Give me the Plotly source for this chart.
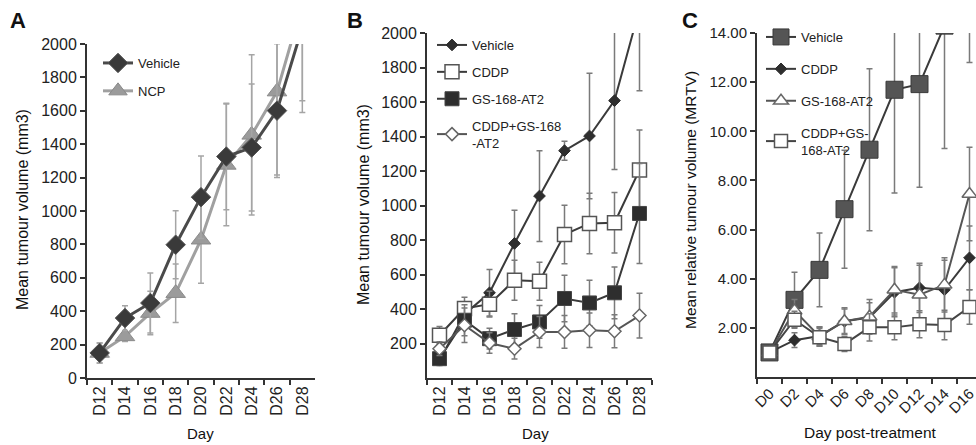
import plotly.graph_objects as go

W, H = 976, 445

# ---------------- Data ----------------
days_ab = ["D12", "D14", "D16", "D18", "D20", "D22", "D24", "D26", "D28"]
days_c = ["D0", "D2", "D4", "D6", "D8", "D10", "D12", "D14", "D16"]

# Panel A
a_vehicle = [150, 359, 449, 798, 1083, 1326, 1380, 1601, 2100]
a_vehicle_err = [60, 74, 180, 203, 247, 319, 380, 400, 510]
a_ncp = [150, 249, 389, 508, 828, 1276, 1456, 1715, 2240]
a_ncp_err = [60, 30, 130, 175, 260, 365, 480, 500, 580]

# Panel B
b_vehicle = [103, 370, 494, 780, 1055, 1318, 1403, 1608, 2140]
b_vehicle_err = [30, 70, 135, 193, 263, 55, 364, 400, 475]
b_cddp = [248, 403, 428, 567, 561, 832, 896, 900, 1206]
b_cddp_err = [50, 65, 75, 116, 110, 170, 175, 175, 232]
b_gs = [112, 335, 228, 281, 325, 461, 435, 494, 954]
b_gs_err = [30, 90, 60, 92, 95, 135, 132, 150, 290]
b_combo = [170, 306, 203, 170, 267, 267, 277, 271, 362]
b_combo_err = [40, 100, 60, 60, 90, 95, 100, 95, 130]

# Panel C
c_vehicle = [1.0, 3.14, 4.36, 6.83, 9.25, 11.69, 11.92, 14.3, 17.5]
c_vehicle_err = [0.2, 1.12, 1.5, 2.4, 3.3, 4.2, 4.2, 5.0, 4.7]
c_cddp = [1.0, 1.5, 1.67, 2.27, 2.42, 3.45, 3.63, 3.55, 4.85]
c_cddp_err = [0.15, 0.3, 0.35, 0.55, 0.6, 1.0, 1.0, 1.2, 1.3]
c_gs = [1.0, 2.7, 1.65, 2.27, 2.45, 3.55, 3.35, 3.75, 7.45]
c_gs_err = [0.15, 0.45, 0.4, 0.5, 0.7, 0.95, 1.2, 1.1, 1.9]
c_combo = [1.0, 2.33, 1.62, 1.34, 2.02, 2.02, 2.15, 2.12, 2.85]
c_combo_err = [0.15, 0.35, 0.35, 0.3, 0.55, 0.5, 0.55, 0.6, 0.7]

yticks_a = list(range(0, 2001, 200))
yticks_b = list(range(200, 2001, 200))
yticks_c = [2, 4, 6, 8, 10, 12, 14]

FONT = "Arial, 'Liberation Sans', sans-serif"


def px_x(p):
    return p / W


def px_y(p):
    return 1 - p / H


fig = go.Figure()


def add(x, y, err, name, xa, ya, legend, rank, marker, line_color, line_width,
        err_color, err_width=1.5):
    fig.add_trace(go.Scatter(
        x=x, y=y, name=name, mode="lines+markers",
        xaxis=xa, yaxis=ya, legend=legend, legendgroup=name + legend,
        legendrank=rank,
        line=dict(color=line_color, width=line_width),
        marker=marker,
        error_y=dict(type="data", array=err, visible=True, color=err_color,
                     thickness=err_width, width=3),
        cliponaxis=True,
    ))


# Panel A traces
add(days_ab, a_ncp, a_ncp_err, "NCP", "x", "y", "legend", 2,
    dict(symbol="triangle-up", size=17, color="#9b9b9b",
         line=dict(color="#8a8a8a", width=1)),
    "#a0a0a0", 3, "#a5a5a5")
add(days_ab, a_vehicle, a_vehicle_err, "Vehicle", "x", "y", "legend", 1,
    dict(symbol="diamond", size=15, color="#3a3a3a",
         line=dict(color="#555555", width=1)),
    "#4a4a4a", 3, "#a5a5a5")

# Panel B traces
add(days_ab, b_vehicle, b_vehicle_err, "Vehicle", "x2", "y2", "legend2", 1,
    dict(symbol="diamond", size=9, color="#2e2e2e",
         line=dict(color="#2e2e2e", width=1)),
    "#3a3a3a", 2, "#7a7a7a")
add(days_ab, b_cddp, b_cddp_err, "CDDP", "x2", "y2", "legend2", 2,
    dict(symbol="square", size=14, color="white",
         line=dict(color="#555555", width=1.5)),
    "#3a3a3a", 2, "#7a7a7a")
add(days_ab, b_gs, b_gs_err, "GS-168-AT2", "x2", "y2", "legend2", 3,
    dict(symbol="square", size=14, color="#2e2e2e",
         line=dict(color="#444444", width=1)),
    "#3a3a3a", 2, "#7a7a7a")
add(days_ab, b_combo, b_combo_err, "CDDP+GS-168<br>-AT2", "x2", "y2", "legend2", 4,
    dict(symbol="diamond", size=10, color="white",
         line=dict(color="#666666", width=1.5)),
    "#555555", 2, "#7a7a7a")

# Panel C traces
add(days_c, c_vehicle, c_vehicle_err, "Vehicle", "x3", "y3", "legend3", 1,
    dict(symbol="square", size=17, color="#555555",
         line=dict(color="#3a3a3a", width=1)),
    "#3a3a3a", 2, "#7a7a7a")
add(days_c, c_cddp, c_cddp_err, "CDDP", "x3", "y3", "legend3", 2,
    dict(symbol="diamond", size=9, color="#2e2e2e",
         line=dict(color="#2e2e2e", width=1)),
    "#3a3a3a", 2, "#7a7a7a")
add(days_c, c_gs, c_gs_err, "GS-168-AT2", "x3", "y3", "legend3", 3,
    dict(symbol="triangle-up", size=13, color="white",
         line=dict(color="#666666", width=1.5)),
    "#555555", 2, "#7a7a7a")
add(days_c, c_combo, c_combo_err, "CDDP+GS-<br>168-AT2", "x3", "y3", "legend3", 4,
    dict(symbol="square", size=13, color="white",
         line=dict(color="#555555", width=1.5)),
    "#444444", 2, "#7a7a7a")

axis_common = dict(showline=True, linecolor="#333333", linewidth=2,
                   ticks="outside", ticklen=5, tickwidth=1.5, tickcolor="#333333",
                   showgrid=False, zeroline=False, automargin=False,
                   tickfont=dict(family=FONT, size=16, color="#222222"))

xcat = dict(axis_common, type="category", tickson="boundaries", tickangle=-90)

legend_font = dict(family=FONT, size=13, color="#222222")

fig.update_layout(
    width=W, height=H,
    margin=dict(l=0, r=0, t=0, b=0, pad=0, autoexpand=False),
    paper_bgcolor="white", plot_bgcolor="white",
    font=dict(family=FONT, color="#222222"),
    xaxis=dict(xcat, domain=[px_x(87), px_x(315)], range=[-0.5, 8.5],
               anchor="y"),
    yaxis=dict(axis_common, domain=[px_y(378), px_y(44)], range=[0, 2000],
               tickvals=yticks_a, anchor="x"),
    xaxis2=dict(xcat, domain=[px_x(427), px_x(652)], range=[-0.5, 8.5],
                anchor="y2"),
    yaxis2=dict(axis_common, domain=[px_y(378), px_y(33)], range=[0, 2000],
                tickvals=yticks_b, anchor="x2"),
    xaxis3=dict(xcat, domain=[px_x(757), 1.0], range=[-0.5, 8.26],
                tickangle=-45, anchor="y3",
                tickfont=dict(family=FONT, size=15, color="#222222")),
    yaxis3=dict(axis_common, domain=[px_y(377), px_y(33)], range=[0, 14],
                tickvals=yticks_c, tickformat=".2f", anchor="x3",
                tickfont=dict(family=FONT, size=15, color="#222222")),
    legend=dict(x=px_x(98), y=px_y(48), xanchor="left", yanchor="top",
                bgcolor="rgba(0,0,0,0)", traceorder="grouped", tracegroupgap=8,
                font=legend_font),
    legend2=dict(x=px_x(432), y=px_y(30), xanchor="left", yanchor="top",
                 bgcolor="rgba(0,0,0,0)", traceorder="grouped", tracegroupgap=7,
                 font=legend_font),
    legend3=dict(x=px_x(761), y=px_y(22), xanchor="left", yanchor="top",
                 bgcolor="rgba(0,0,0,0)", traceorder="grouped", tracegroupgap=12,
                 font=legend_font),
    showlegend=True,
)

ann = []


def text(x, y, s, size, bold=False, angle=0):
    ann.append(dict(x=px_x(x), y=px_y(y), xref="paper", yref="paper",
                    text=f"<b>{s}</b>" if bold else s, showarrow=False,
                    xanchor="center", yanchor="middle", textangle=angle,
                    font=dict(family=FONT, size=size, color="#111111")))


# panel letters
text(18, 21, "A", 22, bold=True)
text(355, 21, "B", 22, bold=True)
text(690, 21, "C", 22, bold=True)
# axis titles
text(22, 210, "Mean tumour volume (mm3)", 16, angle=-90)
text(200, 433, "Day", 15)
text(363, 205, "Mean tumour volume (mm3)", 16, angle=-90)
text(535, 433, "Day", 15)
text(690, 200, "Mean relative tumour volume (MRTV)", 15.5, angle=-90)
text(870, 432, "Day post-treatment", 15.5)

fig.update_layout(annotations=ann)

fig.write_html("out.html",
               config={"displayModeBar": False},
               post_script="document.body.style.margin='0px';"
                           "document.body.style.overflow='hidden';")
